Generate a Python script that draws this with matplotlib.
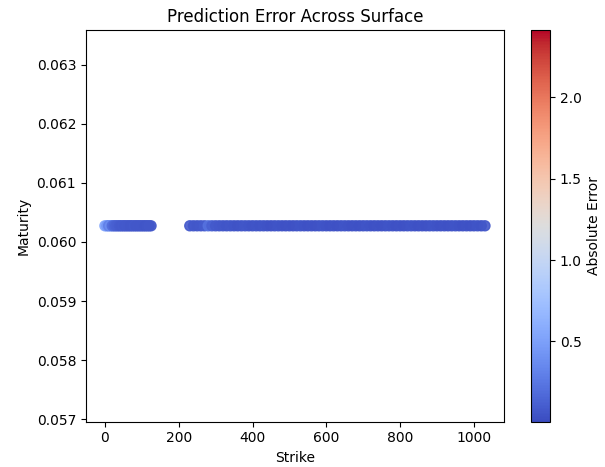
import matplotlib
matplotlib.use("Agg")
import matplotlib.pyplot as plt

maturity_value = 22 / 365  # single maturity in the surface

strikes_low = [0, 5, 10, 15, 20, 25, 30, 35, 40, 45, 50, 55, 60, 65, 70,
               75, 80, 85, 90, 95, 100, 105, 110, 115, 120, 125]
errors_low = [0.55, 0.45, 0.30, 0.38, 0.20, 0.15, 0.12, 0.11, 0.10, 0.09,
              0.10, 0.08, 0.09, 0.08, 0.07, 0.08, 0.09, 0.07, 0.08, 0.07,
              0.08, 0.07, 0.06, 0.07, 0.08, 0.07]

strikes_high = [230, 240, 250, 260, 270, 280, 290, 300, 310, 320, 330, 340,
                350, 360, 370, 380, 390, 400, 410, 420, 430, 440, 450, 460,
                470, 480, 490, 500, 510, 520, 530, 540, 550, 560, 570, 580,
                590, 600, 610, 620, 630, 640, 650, 660, 670, 680, 690, 700,
                710, 720, 730, 740, 750, 760, 770, 780, 790, 800, 810, 820,
                830, 840, 850, 860, 870, 880, 890, 900, 910, 920, 930, 940,
                950, 960, 970, 980, 990, 1000, 1010, 1020, 1030]
errors_high = [0.09, 0.08, 0.07, 0.08, 0.10, 0.22, 0.12, 0.09, 0.08, 0.07,
               0.06, 0.07, 0.06, 0.05, 0.06, 0.07, 0.06, 0.05, 0.06, 0.05,
               0.06, 0.05, 0.04, 0.05, 0.06, 0.05, 0.04, 0.05, 0.04, 0.05,
               0.06, 0.05, 0.04, 0.05, 0.04, 0.05, 0.06, 0.05, 0.04, 0.05,
               0.04, 0.05, 0.06, 0.05, 0.04, 0.05, 0.04, 0.05, 0.06, 0.05,
               0.04, 0.05, 0.04, 0.05, 0.06, 0.05, 0.04, 0.05, 0.04, 0.05,
               0.06, 0.05, 0.04, 0.05, 0.04, 0.05, 0.06, 0.05, 0.04, 0.05,
               0.04, 0.05, 0.06, 0.05, 0.04, 0.05, 0.04, 0.05, 0.06, 0.05,
               0.07]

error_min = 0.006
error_max = 2.415

strikes = strikes_low + strikes_high
errors = errors_low + errors_high
maturities = [maturity_value] * len(strikes)

fig = plt.figure(figsize=(6.05, 4.67), dpi=100)
ax = fig.add_axes([0.142, 0.097, 0.691, 0.839])
cax = fig.add_axes([0.877, 0.097, 0.032, 0.839])

sc = ax.scatter(strikes, maturities, c=errors, cmap="coolwarm",
                vmin=error_min, vmax=error_max, s=52, alpha=0.9)
cb = fig.colorbar(sc, cax=cax)
cb.solids.set_alpha(1)
cb.set_label("Absolute Error")

ax.set_title("Prediction Error Across Surface")
ax.set_xlabel("Strike")
ax.set_ylabel("Maturity")

fig.savefig("out.png", dpi=100)
